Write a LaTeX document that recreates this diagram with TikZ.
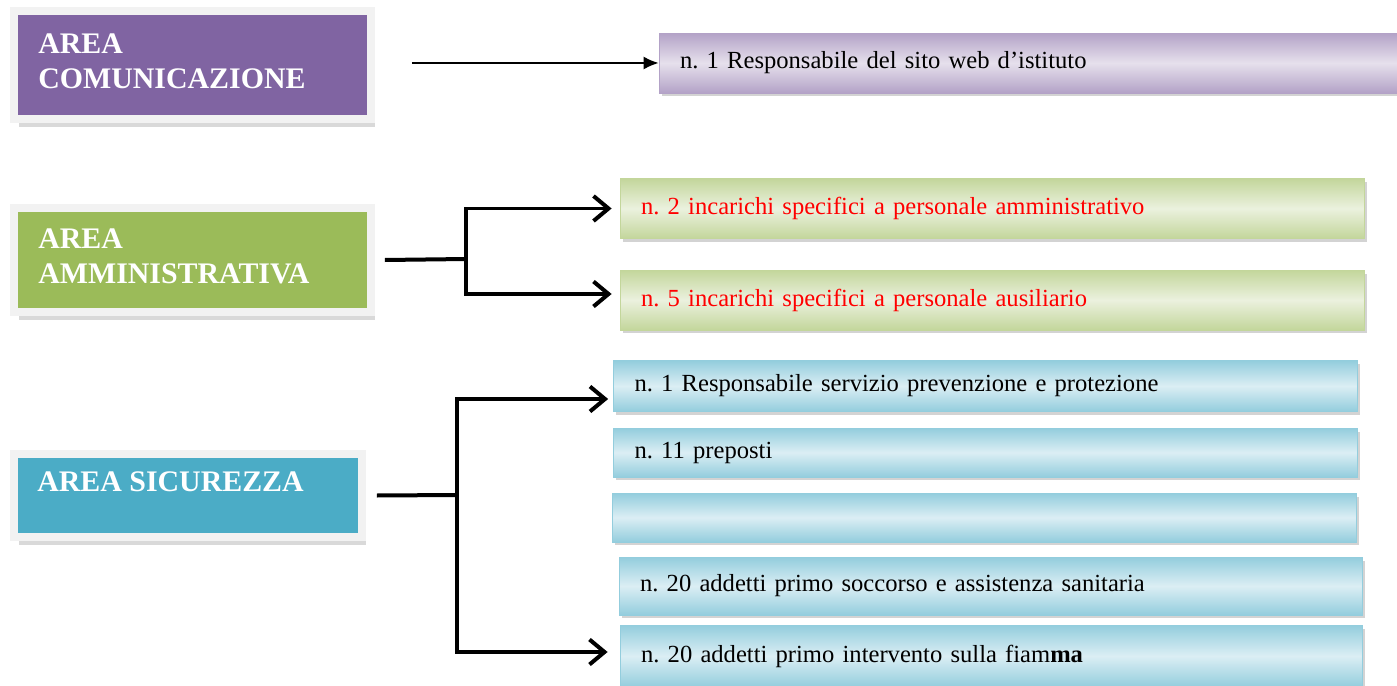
\documentclass[tikz,border=0pt]{standalone}
\usepackage{fontspec}
\setmainfont{Liberation Serif}
\frenchspacing
\usetikzlibrary{positioning,calc,arrows.meta,shadows}

\definecolor{framegrey}{HTML}{F2F2F2}
\definecolor{comviolet}{HTML}{8064A2}
\definecolor{ammgreen}{HTML}{9BBB59}
\definecolor{sicblue}{HTML}{4BACC6}
\definecolor{vioLight}{HTML}{E6E0EC}
\definecolor{vioDark}{HTML}{B3A2C7}
\definecolor{grnLight}{HTML}{EBF1DE}
\definecolor{grnDark}{HTML}{C3D69B}
\definecolor{bluLight}{HTML}{DBEEF4}
\definecolor{bluDark}{HTML}{93CDDD}

\tikzset{
  areabox/.style={draw=framegrey, line width=0.16cm, fill=#1, inner sep=0pt,
    drop shadow={shadow xshift=0.09cm, shadow yshift=-0.16cm, opacity=0.3}},
  areatext/.style={anchor=north west, inner sep=0pt, align=left, text=white,
    font=\bfseries\fontsize{17}{20}\selectfont},
  itembox/.style 2 args={draw=#2, line width=0.5pt, top color=#2, bottom color=#2,
    middle color=#1, inner ysep=0pt, inner xsep=0.42cm, align=left,
    font=\fontsize{14}{17}\selectfont,
    drop shadow={shadow xshift=0.05cm, shadow yshift=-0.07cm, opacity=0.35}},
  forkline/.style={line width=0.08cm},
  fork/.style={line width=0.08cm, shorten >=0.16cm,
    -{Straight Barb[length=0.3cm, width=0.5cm, line width=0.08cm]}},
  thinarrow/.style={line width=1pt, -{Latex[length=0.3cm, width=0.26cm]}}
}

\begin{document}
\begin{tikzpicture}[x=0.02cm, y=-0.02cm]
\useasboundingbox (0,0) rectangle (1397,686);

% left areas
\node[areabox=comviolet, minimum width=7.14cm, minimum height=2.16cm] (com) at (192.5,65) {};
\node[areabox=ammgreen, minimum width=7.14cm, minimum height=2.07cm] (amm) at (192.5,260) {};
\node[areabox=sicblue, minimum width=6.96cm, minimum height=1.66cm] (sic) at (188,495.5) {};
\node[areatext] (comtxt) at (38,33) {AREA\\COMUNICAZIONE};
\node[areatext] (ammtxt) at (38,228) {AREA\\AMMINISTRATIVA};
\node[areatext] (sictxt) at (37,471) {AREA SICUREZZA};

% right items
\node[itembox={vioLight}{vioDark}, text width=14.16cm, minimum height=1.2cm] (sito) at (1034,63)
  {n. 1 Responsabile del sito web d’istituto};
\node[itembox={grnLight}{grnDark}, text width=14.06cm, minimum height=1.2cm, text=red] (inc1) at (992.5,208.5)
  {n. 2 incarichi specifici a personale amministrativo};
\node[itembox={grnLight}{grnDark}, text width=14.06cm, minimum height=1.2cm, text=red] (inc2) at (992.5,300)
  {n. 5 incarichi specifici a personale ausiliario};
\node[itembox={bluLight}{bluDark}, text width=14.04cm, minimum height=1.02cm] (ser1) at (985.5,386)
  {n. 1 Responsabile servizio prevenzione e protezione};
\node[itembox={bluLight}{bluDark}, text width=14.04cm, minimum height=0.98cm] (ser2) at (985.5,452.5)
  {n. 11 preposti};
\node[itembox={bluLight}{bluDark}, text width=14.06cm, minimum height=0.98cm] (ser3) at (984.5,517.5) {};
\node[itembox={bluLight}{bluDark}, text width=14.04cm, minimum height=1.16cm] (ser4) at (991,586)
  {n. 20 addetti primo soccorso e assistenza sanitaria};
\node[itembox={bluLight}{bluDark}, text width=14.02cm, minimum height=1.24cm] (ser5) at (991.5,656)
  {n. 20 addetti primo intervento sulla fiam\textbf{ma}};

% connectors
\draw[thinarrow] ($(com.east |- sito.west)+(0.74cm,0)$) -- (sito.west);

\coordinate (ammfork) at (466,259);
\draw[forkline] ([xshift=0.2cm]amm.east) -- (ammfork);
\draw[fork] ($(ammfork |- inc2.west)+(0,0.12cm)$) -- (ammfork |- inc1.west) -- (inc1.west);
\draw[fork] (ammfork |- inc1.west) -- ($(ammfork |- inc2.west)+(0,0.12cm)$) -- ([yshift=0.12cm]inc2.west);

\coordinate (sicfork) at (457,495);
\draw[forkline] ([xshift=0.22cm]sic.east) -- (sicfork);
\draw[fork, shorten >=0.1cm] ($(sicfork |- ser5.west)+(0,0.08cm)$) -- ($(sicfork |- ser1.west)+(0,-0.26cm)$) -- ([yshift=-0.26cm]ser1.west);
\draw[fork, shorten >=0.24cm] ($(sicfork |- ser1.west)+(0,-0.26cm)$) -- ($(sicfork |- ser5.west)+(0,0.08cm)$) -- ([yshift=0.08cm]ser5.west);
\end{tikzpicture}
\end{document}
